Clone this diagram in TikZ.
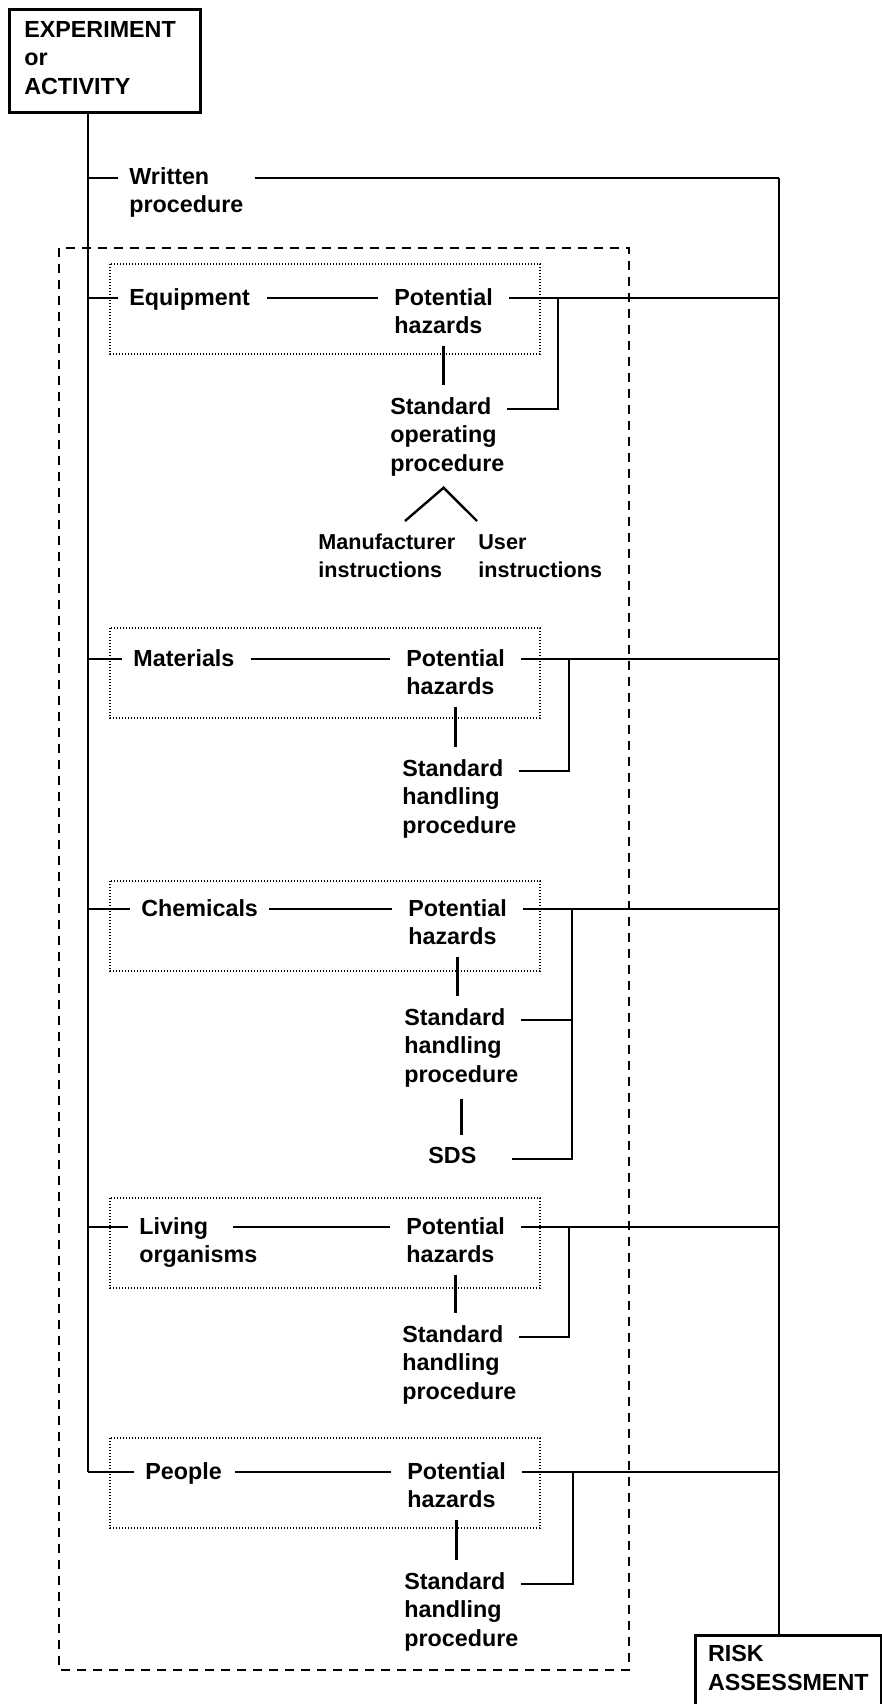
\documentclass[tikz,border=0pt]{standalone}
\usepackage{fontspec}
\setmainfont{Liberation Sans}

\tikzset{
    every node/.style={font=\bfseries\fontsize{11.65}{14.25}\selectfont, inner sep=0pt},
    boxed/.style={draw, line width=1.3pt, align=left},
    lbl/.style={anchor=base west, align=left, inner xsep=5.5pt, inner ysep=5.75pt},
    haz/.style={anchor=base west, align=left, inner xsep=8pt, inner ysep=5.75pt},
    proc/.style={anchor=base west, align=left, inner xsep=1pt, inner ysep=5.75pt},
    instr/.style={anchor=base west, align=left, font=\bfseries\fontsize{10.8}{14}\selectfont},
    link/.style={line width=1.2pt},
    dotbox/.style={line width=1pt, dash pattern=on 0.7pt off 0.8pt},
    dashbox/.style={line width=1.1pt, dash pattern=on 4.5pt off 3.5pt}
}

\begin{document}
\begin{tikzpicture}[x=0.5pt, y=-0.5pt]
    \useasboundingbox (0,0) rectangle (882,1704);
    \clip (0,0) rectangle (882,1704);

    % Start and end boxes
    \node[boxed, anchor=north west, text width=80.5pt, inner xsep=7.5pt, inner ysep=6pt, text depth=31.5pt] (exp) at (8,8) {EXPERIMENT\\or\\ACTIVITY};
    \node[boxed, anchor=north west, minimum width=93pt, inner ysep=5pt, text depth=40pt] (risk) at (694,1634) {RISK\\ASSESSMENT};

    % Written procedure goes straight to the risk assessment
    \coordinate (rw) at (88,178);
    \coordinate (rv) at (779,178);
    \node[lbl] (wp) at (118,212.5) {Written\\procedure};
    \draw[link] (rw) -- (rw -| wp.west);
    \draw[link] (wp.east |- rw) -- (rv);
    \draw[link] (rv) -- (rv |- risk.north);

    % Group of items
    \draw[dashbox] (59,248) rectangle (629,1670);

    % One row per item: item, hazards, handling procedure
    % (base of a node = last line, so shift by the extra lines)
    \foreach \n/\y/\lx/\lk/\mx/\px/\bx/\sy/\sx/\dt/\ltxt/\stxt in {%
        eq/298/129/0/267/394/558/409/390/264/Equipment/{Standard\\operating\\procedure},%
        mat/659/133/0/251/406/569/771/402/628/Materials/{Standard\\handling\\procedure},%
        chem/909/141/0/269/408/572/1020/404/881/Chemicals/{Standard\\handling\\procedure},%
        liv/1227/139/1/233/406/569/1337/402/1198/{Living\\organisms}/{Standard\\handling\\procedure},%
        ppl/1472/145/0/235/407/573/1584/404/1438/People/{Standard\\handling\\procedure}%
    }{
        \coordinate (t\n) at (88,\y);
        \coordinate (m\n) at (\mx,\y);
        \coordinate (b\n) at (\bx,\y);
        \coordinate (s\n) at (\bx,\sy);
        \draw[dotbox] (110,\dt) rectangle (540,\dt+90);
        \node[lbl] (lab\n) at (\lx-11,\y+7+28.5*\lk) {\ltxt};
        \node[haz] (ph\n) at (\px-16,\y+35.5) {Potential\\hazards};
        \node[proc] (sh\n) at (\sx-2,\sy+62) {\stxt};
        \draw[link] (t\n) -- (t\n -| lab\n.west);
        \draw[link] (m\n) -- (m\n -| ph\n.west);
        \draw[link] (ph\n.east |- t\n) -- (t\n -| rv);
        \draw[link] (ph\n.south) -- (ph\n.south |- sh\n.north);
        \draw[link] (b\n) -- (s\n) -- (s\n -| sh\n.east);
    }

    % Main spine
    \draw[link] (exp.south -| tppl) -- (tppl);

    % Equipment: two kinds of instructions
    \node[instr] (man) at (318,577) {Manufacturer\\instructions};
    \node[instr] (usr) at (478,577) {User\\instructions};
    \coordinate (legm) at (405,521);
    \coordinate (legu) at (477,521);
    \draw[link] (legm) -- (pheq.south |- sheq.south) -- (legu);

    % Chemicals: SDS
    \node[proc] (sds) at (426,1163) {SDS};
    \coordinate (sdsl) at (512,1159);
    \draw[link] (shchem.south) -- (shchem.south |- sds.north);
    \draw[link] (bchem) |- (sdsl);
\end{tikzpicture}
\end{document}
